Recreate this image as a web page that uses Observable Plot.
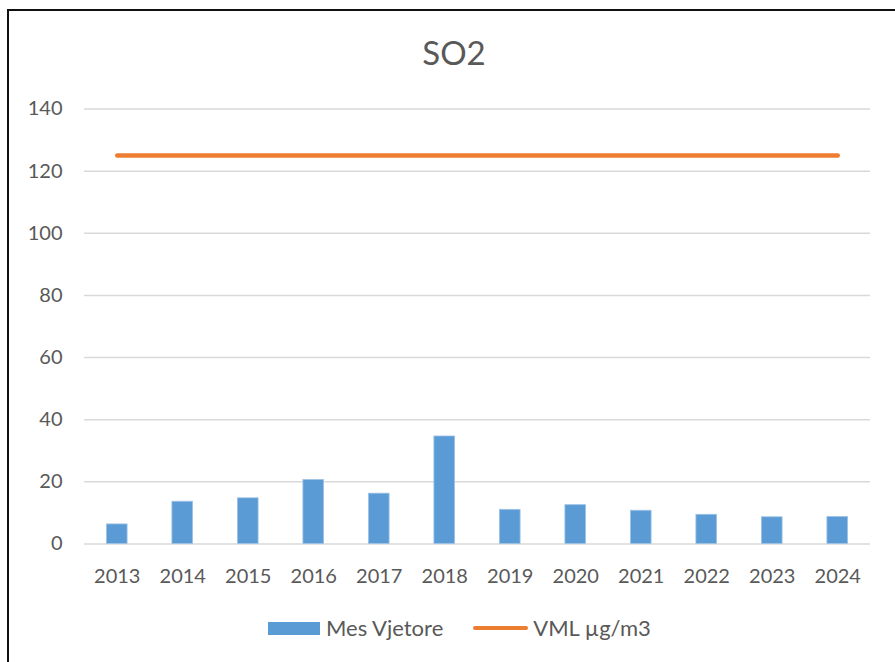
<!DOCTYPE html>
<html>
<head>
<meta charset="utf-8">
<script src="https://cdn.jsdelivr.net/npm/d3@7"></script>
<script src="https://cdn.jsdelivr.net/npm/@observablehq/plot@0.6"></script>
<style>
  html, body { margin: 0; padding: 0; background: #fff; }
  #wrap { position: relative; width: 895px; height: 662px; overflow: hidden; font-family: Lato, "Liberation Sans", sans-serif; color: #595959; }
  #frame { position: absolute; left: 7px; top: 9px; width: 1000px; height: 1000px; border-left: 2px solid #111; border-top: 2px solid #111; box-sizing: border-box; }
  #title { position: absolute; left: 354px; width: 200px; top: 32px; text-align: center; font-size: 33px; line-height: 40px; }
  #chart { position: absolute; left: 0; top: 90px; }
  #legend { position: absolute; left: 268px; top: 614px; display: flex; align-items: center; font-size: 22px; line-height: 28px; }
  .sw-bar { display: inline-block; width: 52px; height: 13px; background: #5B9BD5; margin-right: 6px; }
  .sw-line { display: inline-block; width: 55px; height: 4.5px; border-radius: 3px; background: #ED7D31; margin-right: 5px; }
</style>
</head>
<body>
<div id="wrap">
  <div id="frame"></div>
  <div id="title">SO2</div>
  <div id="chart"></div>
  <div id="legend">
    <span class="sw-bar"></span><span style="margin-right:30px">Mes Vjetore</span>
    <span class="sw-line"></span><span>VML µg/m3</span>
  </div>
</div>
<script>
const years = ["2013","2014","2015","2016","2017","2018","2019","2020","2021","2022","2023","2024"];
const mesVjetore = [6.3, 13.6, 14.7, 20.6, 16.2, 34.6, 11.0, 12.5, 10.7, 9.4, 8.6, 8.7];
const vml = [125, 125, 125, 125, 125, 125, 125, 125, 125, 125, 125, 125];
const yTicks = [0, 20, 40, 60, 80, 100, 120, 140];

const data = years.map((y, i) => ({year: y, mes: mesVjetore[i], vml: vml[i]}));

const plot = Plot.plot({
  width: 895,
  height: 510,
  marginLeft: 84,
  marginRight: 25,
  marginTop: 18.5,
  marginBottom: 56.5,
  style: {fontFamily: "Lato, 'Liberation Sans', sans-serif", fontSize: "20px", color: "#595959", background: "transparent"},
  x: {domain: years, paddingInner: 0.684, paddingOuter: 0.342, round: false, label: null},
  y: {domain: [0, 140], ticks: yTicks, label: null},
  marks: [
    Plot.ruleY(yTicks, {stroke: "#d9d9d9", strokeWidth: 1.5}),
    Plot.barY(data, {x: "year", y: "mes", fill: "#5B9BD5", stroke: "#9dc3e6", strokeWidth: 0.8}),
    Plot.line(data, {x: "year", y: "vml", stroke: "#ED7D31", strokeWidth: 4.5, strokeLinecap: "round"}),
    Plot.axisX({tickSize: 0, tickPadding: 24.5, label: null, fill: "#595959"}),
    Plot.axisY({ticks: yTicks, tickSize: 0, tickPadding: 22, label: null, fill: "#595959"})
  ]
});
document.getElementById("chart").appendChild(plot);
</script>
</body>
</html>
